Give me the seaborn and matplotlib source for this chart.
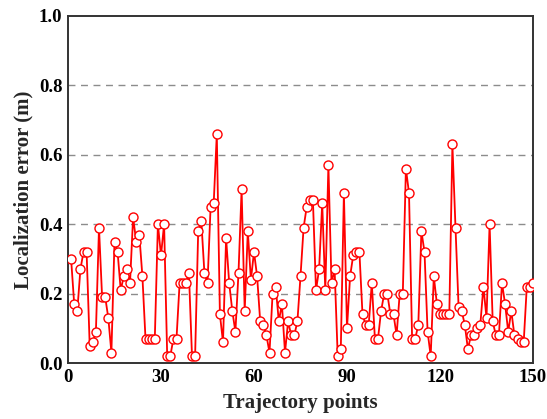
import matplotlib
matplotlib.use("Agg")
import matplotlib.pyplot as plt
import seaborn as sns
import pandas as pd
import numpy as np

errors = [
    0.30, 0.17, 0.15, 0.27, 0.32, 0.32, 0.05, 0.06, 0.09, 0.39,
    0.19, 0.19, 0.13, 0.03, 0.35, 0.32, 0.21, 0.25, 0.27, 0.23,
    0.42, 0.35, 0.37, 0.25, 0.07, 0.07, 0.07, 0.07, 0.40, 0.31,
    0.40, 0.02, 0.02, 0.07, 0.07, 0.23, 0.23, 0.23, 0.26, 0.02,
    0.02, 0.38, 0.41, 0.26, 0.23, 0.45, 0.46, 0.66, 0.14, 0.06,
    0.36, 0.23, 0.15, 0.09, 0.26, 0.50, 0.15, 0.38, 0.24, 0.32,
    0.25, 0.12, 0.11, 0.08, 0.03, 0.20, 0.22, 0.12, 0.17, 0.03,
    0.12, 0.08, 0.08, 0.12, 0.25, 0.39, 0.45, 0.47, 0.47, 0.21,
    0.27, 0.46, 0.21, 0.57, 0.23, 0.27, 0.02, 0.04, 0.49, 0.10,
    0.25, 0.31, 0.32, 0.32, 0.14, 0.11, 0.11, 0.23, 0.07, 0.07,
    0.15, 0.20, 0.20, 0.14, 0.14, 0.08, 0.20, 0.20, 0.56, 0.49,
    0.07, 0.07, 0.11, 0.38, 0.32, 0.09, 0.02, 0.25, 0.17, 0.14,
    0.14, 0.14, 0.14, 0.63, 0.39, 0.16, 0.15, 0.11, 0.04, 0.08,
    0.08, 0.10, 0.11, 0.22, 0.13, 0.40, 0.12, 0.08, 0.08, 0.23,
    0.17, 0.09, 0.15, 0.08, 0.07, 0.06, 0.06, 0.22, 0.22, 0.23,
]
points = list(range(1, len(errors) + 1))
x_ticks = [0, 30, 60, 90, 120, 150]
y_ticks = [0.0, 0.2, 0.4, 0.6, 0.8, 1.0]
x_label = "Trajectory points"
y_label = "Localization error (m)"

df = pd.DataFrame({"point": points, "error": errors})

sns.set_style("white")
plt.rcParams["font.family"] = ["Liberation Serif", "DejaVu Serif"]
plt.rcParams["font.weight"] = "bold"

fig = plt.figure(figsize=(5.47, 4.19), dpi=100)
ax = fig.add_axes([68 / 547, 1 - 363 / 419, (533 - 68) / 547, (363 - 16) / 419])

for yv in y_ticks[1:-1]:
    ax.axhline(yv, color="#8c8c8c", linestyle=(0, (5, 4)), linewidth=1.0, zorder=0)

sns.lineplot(data=df, x="point", y="error", ax=ax, color="#ff0000",
             linewidth=1.3, marker="o", markersize=6.5,
             markerfacecolor="white", markeredgecolor="#ff0000",
             markeredgewidth=1.0, zorder=3)

ax.set_xlim(0, 150)
ax.set_ylim(0, 1.0)
ax.set_xticks(x_ticks)
ax.set_yticks(y_ticks)
ax.set_xticklabels([str(t) for t in x_ticks], fontsize=13.5, fontweight="bold")
ax.set_yticklabels([f"{t:.1f}" for t in y_ticks], fontsize=13.5, fontweight="bold")
ax.tick_params(direction="in", length=5, width=1.2, pad=4, colors="black")
ax.set_xlabel(x_label, fontsize=15, fontweight="bold", labelpad=5)
ax.set_ylabel(y_label, fontsize=15, fontweight="bold", labelpad=4)

for s in ax.spines.values():
    s.set_visible(True)
    s.set_color("#333333")
    s.set_linewidth(1.4)

fig.savefig("out.png", dpi=100)
